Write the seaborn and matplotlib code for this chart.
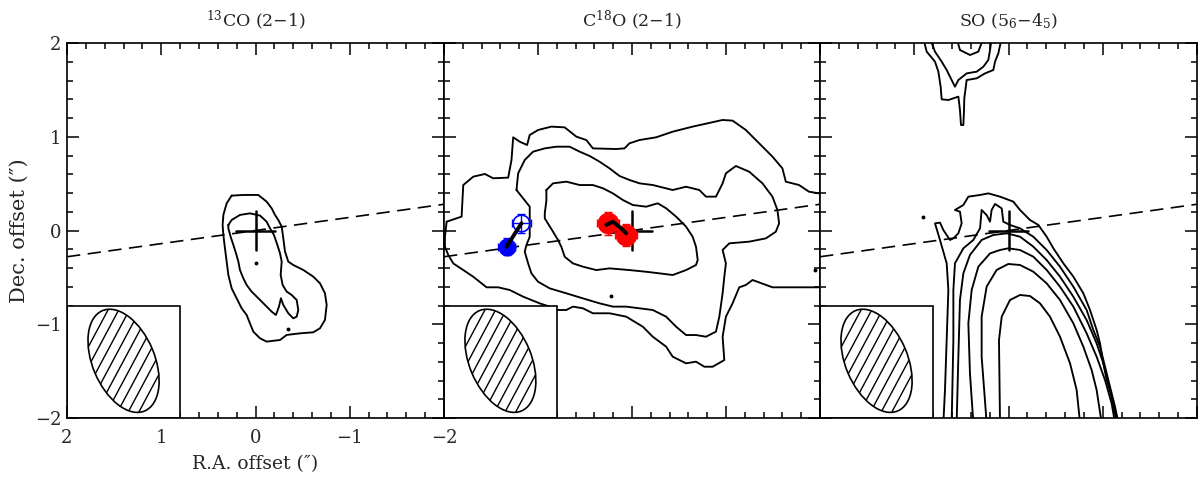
import numpy as np
import pandas as pd
import matplotlib
matplotlib.use("Agg")
import matplotlib.pyplot as plt
from matplotlib.patches import Ellipse, Rectangle
from matplotlib.ticker import MultipleLocator
import seaborn as sns

# ---------------- data (offsets in arcsec) ----------------
TITLES = ["$^{13}$CO (2\u22121)", "C$^{18}$O (2\u22121)", "SO (5$_6$\u22124$_5$)"]
TICKS = [2, 1, 0, -1, -2]
TICK_LABELS = ["2", "1", "0", "\u22121", "\u22122"]

CO13_OUTER = [(0.253, 0.372), (0.129, 0.379), (-0.030, 0.379), (-0.118, 0.308), (-0.171, 0.237),
              (-0.207, 0.166), (-0.242, 0.112), (-0.278, 0.041), (-0.295, -0.083), (-0.313, -0.225),
              (-0.348, -0.332), (-0.401, -0.368), (-0.507, -0.421), (-0.613, -0.492), (-0.684, -0.563),
              (-0.737, -0.670), (-0.755, -0.794), (-0.737, -0.954), (-0.684, -1.043), (-0.613, -1.086),
              (-0.472, -1.097), (-0.331, -1.114), (-0.260, -1.168), (-0.118, -1.185), (-0.048, -1.150),
              (0.023, -1.079), (0.059, -0.990), (0.094, -0.901), (0.147, -0.830), (0.200, -0.723),
              (0.253, -0.617), (0.288, -0.474), (0.306, -0.332), (0.324, -0.190), (0.341, -0.048),
              (0.349, 0.059), (0.341, 0.166), (0.306, 0.290), (0.253, 0.372)]
CO13_INNER = [(0.288, 0.059), (0.253, 0.112), (0.165, 0.166), (0.058, 0.183), (-0.048, 0.159),
              (-0.118, 0.095), (-0.154, 0.023), (-0.196, -0.048), (-0.232, -0.154), (-0.260, -0.243),
              (-0.278, -0.332), (-0.267, -0.474), (-0.288, -0.581), (-0.331, -0.652), (-0.384, -0.688),
              (-0.437, -0.741), (-0.454, -0.848), (-0.437, -0.919), (-0.401, -0.937), (-0.348, -0.883),
              (-0.295, -0.794), (-0.270, -0.723), (-0.249, -0.812), (-0.217, -0.901), (-0.171, -0.865),
              (-0.101, -0.794), (-0.030, -0.723), (0.041, -0.652), (0.094, -0.581), (0.129, -0.510),
              (0.165, -0.421), (0.182, -0.332), (0.207, -0.243), (0.235, -0.154), (0.264, -0.066),
              (0.288, 0.023), (0.288, 0.059)]
CO13_DOTS_X = [-0.002, -0.348]
CO13_DOTS_Y = [-0.343, -1.054]

C18O_OUTER = [(1.972, 0.094), (1.813, 0.148), (1.795, 0.485), (1.689, 0.574), (1.565, 0.603),
              (1.477, 0.557), (1.317, 0.564), (1.282, 0.752), (1.264, 0.994), (1.194, 0.947),
              (1.116, 0.912), (1.088, 1.019), (0.999, 1.072), (0.858, 1.108), (0.716, 1.100),
              (0.592, 1.001), (0.486, 0.965), (0.416, 0.876), (0.168, 0.869), (0.080, 0.876),
              (0.027, 0.930), (-0.080, 0.965), (-0.257, 0.994), (-0.433, 1.054), (-0.645, 1.108),
              (-0.964, 1.179), (-1.070, 1.172), (-1.211, 1.072), (-1.353, 0.930), (-1.494, 0.788),
              (-1.600, 0.663), (-1.636, 0.521), (-1.777, 0.485), (-1.883, 0.414), (-1.990, 0.396),
              (-2.1, 0.396)]
C18O_OUTER_B = [(-2.1, -0.606), (-1.990, -0.606), (-1.777, -0.606), (-1.495, -0.606),
                (-1.282, -0.528), (-1.212, -0.581), (-1.141, -0.606), (-1.070, -0.777),
                (-0.999, -0.919), (-0.964, -1.133), (-0.982, -1.382), (-0.858, -1.453),
                (-0.770, -1.453), (-0.681, -1.399), (-0.575, -1.417), (-0.433, -1.346),
                (-0.363, -1.239), (-0.221, -1.133), (-0.115, -1.026), (0.062, -0.919),
                (0.239, -0.883), (0.416, -0.883), (0.522, -0.830), (0.628, -0.812),
                (0.699, -0.848), (0.805, -0.848), (0.876, -0.812), (0.982, -0.777),
                (1.158, -0.706), (1.300, -0.635), (1.423, -0.606), (1.547, -0.606),
                (1.689, -0.493), (1.795, -0.422), (1.901, -0.351), (1.954, -0.262),
                (1.990, -0.173), (1.990, -0.066), (1.972, 0.094)]
C18O_MIDDLE = [(1.229, 0.432), (1.211, 0.610), (1.141, 0.752), (1.052, 0.841), (0.928, 0.876),
               (0.804, 0.894), (0.663, 0.894), (0.557, 0.841), (0.451, 0.795), (0.345, 0.734),
               (0.239, 0.663), (0.132, 0.581), (0.027, 0.539), (-0.080, 0.503), (-0.221, 0.485),
               (-0.433, 0.432), (-0.575, 0.467), (-0.716, 0.432), (-0.787, 0.361), (-0.893, 0.361),
               (-0.964, 0.503), (-0.999, 0.610), (-1.105, 0.688), (-1.247, 0.627), (-1.388, 0.503),
               (-1.494, 0.361), (-1.547, 0.219), (-1.565, 0.076), (-1.530, -0.013), (-1.424, -0.084),
               (-1.247, -0.119), (-1.035, -0.137), (-0.964, -0.208), (-0.999, -0.351), (-0.982, -0.493),
               (-0.964, -0.670), (-0.929, -0.919), (-0.893, -1.079), (-0.787, -1.133), (-0.681, -1.115),
               (-0.575, -1.115), (-0.469, -1.026), (-0.363, -0.919), (-0.221, -0.848), (-0.080, -0.830),
               (0.062, -0.812), (0.203, -0.812), (0.345, -0.777), (0.522, -0.724), (0.699, -0.670),
               (0.876, -0.617), (1.000, -0.546), (1.070, -0.457), (1.105, -0.351), (1.141, -0.226),
               (1.123, -0.155), (1.088, -0.066), (1.088, 0.254), (1.229, 0.432)]
C18O_INNER = [(0.911, 0.432), (0.840, 0.503), (0.698, 0.521), (0.557, 0.485), (0.416, 0.485),
              (0.309, 0.450), (0.203, 0.396), (0.097, 0.325), (-0.009, 0.272), (-0.150, 0.254),
              (-0.274, 0.290), (-0.363, 0.237), (-0.469, 0.148), (-0.575, 0.041), (-0.645, -0.066),
              (-0.681, -0.173), (-0.699, -0.315), (-0.681, -0.368), (-0.575, -0.422), (-0.433, -0.475),
              (-0.292, -0.457), (-0.150, -0.440), (0.027, -0.422), (0.239, -0.404), (0.380, -0.422),
              (0.522, -0.386), (0.628, -0.351), (0.716, -0.280), (0.752, -0.173), (0.787, -0.102),
              (0.840, -0.013), (0.928, 0.129), (0.928, 0.183), (0.911, 0.317), (0.911, 0.432)]
C18O_DOTS_X = [0.221, -1.95]
C18O_DOTS_Y = [-0.699, -0.422]

SO_TOP_OUTER = [(0.904, 2.05), (0.868, 1.908), (0.780, 1.801), (0.744, 1.694), (0.720, 1.534),
                (0.709, 1.399), (0.638, 1.392), (0.532, 1.428), (0.515, 1.285), (0.504, 1.125),
                (0.479, 1.125), (0.472, 1.285), (0.469, 1.410), (0.444, 1.605), (0.338, 1.623),
                (0.249, 1.676), (0.161, 1.712), (0.143, 1.801), (0.108, 1.890), (0.073, 2.05)]
SO_TOP_INNER = [(0.833, 2.05), (0.780, 1.908), (0.709, 1.801), (0.656, 1.712), (0.603, 1.605),
                (0.568, 1.534), (0.532, 1.605), (0.444, 1.676), (0.338, 1.694), (0.267, 1.747),
                (0.214, 1.819), (0.196, 1.925), (0.179, 2.05)]
SO_TOP_PEAK = [(0.550, 2.05), (0.515, 1.925), (0.408, 1.872), (0.320, 1.908), (0.267, 2.05)]
SO_C1 = [(0.691, -2.05), (0.674, -1.701), (0.656, -1.168), (0.638, -0.635), (0.656, -0.350),
         (0.727, -0.101), (0.780, 0.076), (0.727, 0.084), (0.691, 0.005), (0.621, -0.101),
         (0.585, -0.084), (0.532, -0.030), (0.497, 0.076), (0.515, 0.201), (0.568, 0.219),
         (0.479, 0.272), (0.426, 0.361), (0.302, 0.379), (0.214, 0.396), (0.090, 0.361),
         (-0.051, 0.308), (-0.122, 0.219), (-0.228, 0.112), (-0.317, 0.059), (-0.405, -0.066),
         (-0.476, -0.190), (-0.582, -0.350), (-0.688, -0.492), (-0.794, -0.670), (-0.865, -0.848),
         (-0.935, -1.061), (-0.971, -1.204), (-1.006, -1.417), (-1.042, -1.595), (-1.094, -1.772),
         (-1.148, -2.05)]
SO_C1B = [(0.603, -2.05), (0.585, -1.168), (0.585, -0.635), (0.568, -0.350), (0.479, -0.190),
          (0.373, -0.101), (0.302, 0.023), (0.285, 0.219), (0.232, 0.165), (0.196, 0.094),
          (0.179, 0.219), (0.143, 0.283), (0.072, 0.236), (0.055, 0.094), (-0.016, 0.059),
          (-0.122, 0.023), (-0.263, -0.066), (-0.405, -0.208), (-0.546, -0.386), (-0.688, -0.599),
          (-0.829, -0.848), (-0.900, -1.061), (-0.971, -1.239), (-1.024, -1.452), (-1.077, -1.666),
          (-1.130, -1.879), (-1.165, -2.05)]
SO_C2 = [(0.550, -2.05), (0.532, -1.346), (0.515, -0.741), (0.479, -0.457), (0.409, -0.261),
         (0.285, -0.101), (0.161, -0.048), (0.019, -0.030), (-0.122, -0.066), (-0.263, -0.172),
         (-0.405, -0.315), (-0.546, -0.492), (-0.688, -0.706), (-0.829, -0.955), (-0.935, -1.204),
         (-1.006, -1.417), (-1.059, -1.630), (-1.112, -1.844), (-1.165, -2.05)]
SO_C3 = [(0.373, -2.05), (0.409, -1.524), (0.426, -0.990), (0.391, -0.635), (0.320, -0.386),
         (0.196, -0.244), (0.090, -0.208), (0.002, -0.190), (-0.122, -0.208), (-0.263, -0.279),
         (-0.405, -0.421), (-0.546, -0.599), (-0.688, -0.812), (-0.829, -1.097), (-0.935, -1.346),
         (-1.024, -1.595), (-1.094, -1.844), (-1.130, -2.05)]
SO_C4 = [(0.232, -2.05), (0.285, -1.346), (0.285, -0.919), (0.232, -0.599), (0.126, -0.421),
         (0.002, -0.357), (-0.122, -0.368), (-0.263, -0.439), (-0.405, -0.564), (-0.546, -0.741),
         (-0.688, -0.990), (-0.794, -1.239), (-0.882, -1.488), (-0.935, -1.701), (-0.988, -2.05)]
SO_C5 = [(0.090, -2.05), (0.101, -1.168), (0.072, -0.919), (-0.016, -0.741), (-0.122, -0.688),
         (-0.228, -0.699), (-0.334, -0.777), (-0.440, -0.919), (-0.546, -1.132), (-0.653, -1.417),
         (-0.723, -1.701), (-0.759, -2.05)]
SO_DOTS_X = [0.911]
SO_DOTS_Y = [0.148]

BLUE_X = [1.335, 1.176]
BLUE_Y = [-0.173, 0.077]
BLUE_ERR = [0.09, 0.10]
RED_LINE_X = [0.274, 0.204, 0.115, 0.062]
RED_LINE_Y = [0.059, 0.094, 0.023, -0.030]
RED_X = [0.257, 0.062]
RED_Y = [0.077, -0.048]
RED_ERR = [0.12, 0.12]

AXIS_X = [2.0, -2.0]
AXIS_Y = [-0.28, 0.28]
CROSS_SIZE = 0.21
BEAM_CENTER = (1.40, -1.39)
BEAM_MINOR = 0.66
BEAM_MAJOR = 1.16
BEAM_ANGLE = -22.6
BEAM_BOX = 1.2

PANEL_CONTOURS = [
    [CO13_OUTER, CO13_INNER],
    [C18O_OUTER, C18O_OUTER_B, C18O_MIDDLE, C18O_INNER],
    [SO_TOP_OUTER, SO_TOP_INNER, SO_TOP_PEAK, SO_C1, SO_C1B, SO_C2, SO_C3, SO_C4, SO_C5],
]
PANEL_DOTS = [(CO13_DOTS_X, CO13_DOTS_Y), (C18O_DOTS_X, C18O_DOTS_Y), (SO_DOTS_X, SO_DOTS_Y)]

# ---------------- drawing ----------------
sns.set_style("ticks")
plt.rcParams["font.family"] = ["DejaVu Serif"]
plt.rcParams["mathtext.fontset"] = "dejavuserif"

fig = plt.figure(figsize=(12, 4.8), dpi=100)
W, H = 1200.0, 480.0
lefts = [67, 444, 820]
widths = [377, 376, 377]
axes = [fig.add_axes([l / W, 62 / H, w / W, 375 / H]) for l, w in zip(lefts, widths)]

for i, ax in enumerate(axes):
    rows = []
    for cid, path in enumerate(PANEL_CONTOURS[i]):
        for k, (x, y) in enumerate(path):
            rows.append({"x": x, "y": y, "cid": cid, "k": k})
    df = pd.DataFrame(rows)
    sns.lineplot(data=df, x="x", y="y", units="cid", estimator=None, sort=False,
                 color="black", lw=1.35, ax=ax, zorder=2)
    dx, dy = PANEL_DOTS[i]
    ax.plot(dx, dy, ls="none", marker="o", ms=1.8, color="black", zorder=2)

    ax.plot(AXIS_X, AXIS_Y, color="black", lw=1.2, ls=(0, (8, 4.5)), zorder=3)
    ax.plot([CROSS_SIZE, -CROSS_SIZE], [0, 0], color="black", lw=1.8, zorder=6)
    ax.plot([0, 0], [CROSS_SIZE, -CROSS_SIZE], color="black", lw=1.8, zorder=6)

    box = Rectangle((2.0, -2.0), -BEAM_BOX, BEAM_BOX, facecolor="white",
                    edgecolor="black", lw=1.2, zorder=4)
    ax.add_patch(box)
    ell = Ellipse(BEAM_CENTER, BEAM_MINOR, BEAM_MAJOR, angle=BEAM_ANGLE,
                  facecolor="none", edgecolor="black", lw=1.2, zorder=5)
    ax.add_patch(ell)
    ang = np.deg2rad(62)
    ux, uy = -np.cos(ang), np.sin(ang)
    nx, ny = np.sin(ang), np.cos(ang)
    for s in np.arange(-0.8, 0.81, 0.1):
        cx, cy = BEAM_CENTER[0] + s * nx, BEAM_CENTER[1] + s * ny
        ln, = ax.plot([cx - ux, cx + ux], [cy - uy, cy + uy], color="black", lw=1.0, zorder=5)
        ln.set_clip_path(ell)

    ax.set_xlim(2, -2)
    ax.set_ylim(-2, 2)
    ax.set_xticks(TICKS)
    ax.set_yticks(TICKS)
    ax.xaxis.set_minor_locator(MultipleLocator(0.2))
    ax.yaxis.set_minor_locator(MultipleLocator(0.2))
    ax.tick_params(which="both", direction="in", top=True, right=True, width=1.1, color="black")
    ax.tick_params(which="major", length=8.5)
    ax.tick_params(which="minor", length=4.3)
    for sp in ax.spines.values():
        sp.set_linewidth(1.2)
        sp.set_color("black")
        sp.set_zorder(10)
    ax.set_xlabel("")
    ax.set_ylabel("")
    ax.set_title(TITLES[i], fontsize=12.5, pad=12)
    if i == 0:
        ax.set_xticklabels(TICK_LABELS, fontsize=13)
        ax.set_yticklabels(TICK_LABELS, fontsize=13)
        ax.tick_params(axis="x", which="major", pad=8)
        ax.tick_params(axis="y", which="major", pad=4)
        ax.set_xlabel("R.A. offset (\u2033)", fontsize=13.5, labelpad=6)
        ax.set_ylabel("Dec. offset (\u2033)", fontsize=15, labelpad=4)
    else:
        ax.set_xticklabels([])
        ax.set_yticklabels([])

ax = axes[1]
ax.errorbar(RED_X, RED_Y, xerr=RED_ERR, yerr=RED_ERR, fmt="none", ecolor="red",
            elinewidth=1.0, capsize=3, zorder=6)
sns.scatterplot(x=RED_X, y=RED_Y, color="red", s=210, edgecolor="red", ax=ax, zorder=7, legend=False)
ax.errorbar(BLUE_X, BLUE_Y, xerr=BLUE_ERR, yerr=BLUE_ERR, fmt="none", ecolor="blue",
            elinewidth=1.0, capsize=3, zorder=6)
ax.plot(BLUE_X[0], BLUE_Y[0], "o", ms=12, color="blue", zorder=7)
ax.plot(BLUE_X[1], BLUE_Y[1], "o", ms=12, mfc="none", mec="blue", mew=1.2, zorder=7)
ax.plot(BLUE_X, BLUE_Y, color="black", lw=2.8, zorder=8, solid_capstyle="round")
ax.plot(RED_LINE_X, RED_LINE_Y, color="black", lw=2.8, zorder=8, solid_capstyle="round")

fig.savefig("out.png", dpi=100)
